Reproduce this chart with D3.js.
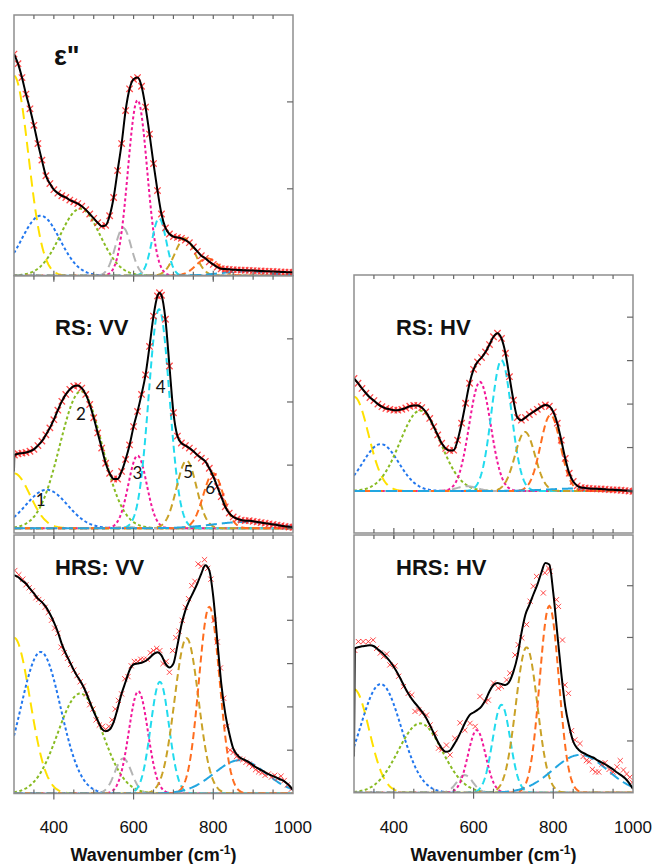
<!DOCTYPE html>
<html><head><meta charset="utf-8">
<script src="https://cdn.jsdelivr.net/npm/d3@7"></script>
<style>body{margin:0;background:#fff} svg{display:block}</style>
</head><body><svg id="c" width="655" height="864"></svg>
<script>
// ---------------- DATA ----------------
const xTickLabels = [400, 600, 800, 1000];
const xDomain = [300, 1000];

const compColors = ["#ffe100", "#2277ee", "#88bb22", "#b4b4b4", "#f2189a", "#22dbee", "#c9a227", "#ff6d1f", "#22a6e0"];

// Fit curves [wavenumber, value]
const epsFit = [[300,2.55],[310,2.44],[320,2.28],[330,2.09],[340,1.92],[350,1.73],[360,1.52],[370,1.33],[380,1.15],[390,1.06],[400,0.99],[410,0.95],[420,0.92],[430,0.90],[440,0.87],[450,0.85],[460,0.83],[470,0.80],[480,0.76],[490,0.71],[500,0.66],[510,0.61],[520,0.57],[530,0.58],[540,0.69],[550,0.90],[560,1.21],[570,1.52],[580,1.90],[590,2.15],[600,2.26],[610,2.28],[620,2.18],[630,1.94],[640,1.63],[650,1.29],[660,0.98],[670,0.71],[680,0.55],[690,0.48],[700,0.45],[710,0.44],[720,0.43],[730,0.41],[740,0.38],[750,0.33],[760,0.28],[770,0.23],[780,0.20],[790,0.16],[800,0.13],[810,0.10],[820,0.08],[830,0.077],[840,0.073],[850,0.069],[860,0.067],[870,0.065],[880,0.063],[890,0.061],[900,0.059],[910,0.056],[920,0.054],[930,0.052],[940,0.05],[950,0.048],[960,0.046],[970,0.044],[980,0.042],[990,0.04],[1000,0.038]];

const rsVVLeadIn = [[300,0.90]];
const rsVVFit = [[301,1.16],[310,1.18],[320,1.19],[330,1.20],[340,1.22],[350,1.25],[360,1.31],[370,1.38],[380,1.48],[390,1.59],[400,1.72],[410,1.87],[420,2.01],[430,2.12],[440,2.20],[450,2.25],[460,2.26],[470,2.22],[480,2.12],[490,1.96],[500,1.75],[510,1.51],[520,1.27],[530,1.03],[540,0.87],[550,0.78],[560,0.78],[570,0.90],[580,1.09],[590,1.32],[600,1.61],[610,1.85],[620,2.12],[630,2.43],[640,2.88],[650,3.36],[660,3.68],[665,3.73],[670,3.69],[680,3.31],[690,2.57],[700,1.83],[710,1.46],[720,1.35],[730,1.31],[740,1.27],[750,1.22],[760,1.16],[770,1.11],[780,1.06],[790,0.95],[800,0.82],[810,0.66],[820,0.50],[830,0.34],[840,0.24],[850,0.18],[860,0.15],[870,0.13],[880,0.12],[890,0.12],[900,0.11],[910,0.10],[920,0.09],[930,0.08],[940,0.07],[950,0.06],[960,0.05],[970,0.04],[980,0.03],[990,0.02],[1000,0.016]];

const rsHVFit = [[300,2.59],[310,2.48],[320,2.36],[330,2.25],[340,2.15],[350,2.08],[360,2.00],[370,1.94],[380,1.90],[390,1.88],[400,1.86],[410,1.86],[420,1.88],[430,1.91],[440,1.95],[450,1.97],[460,1.97],[470,1.92],[480,1.82],[490,1.67],[500,1.48],[510,1.29],[520,1.10],[530,0.98],[540,0.93],[550,0.94],[560,1.17],[570,1.56],[580,2.02],[590,2.48],[600,2.80],[610,2.97],[620,3.07],[630,3.20],[640,3.37],[650,3.55],[660,3.63],[670,3.51],[680,3.17],[690,2.63],[700,2.09],[710,1.69],[720,1.63],[730,1.69],[740,1.76],[750,1.82],[760,1.88],[770,1.94],[780,1.98],[790,1.95],[800,1.82],[810,1.56],[820,1.17],[830,0.75],[840,0.41],[850,0.22],[860,0.12],[870,0.08],[880,0.07],[890,0.06],[900,0.054],[910,0.05],[920,0.046],[930,0.04],[940,0.031],[950,0.027],[960,0.023],[970,0.017],[980,0.01],[990,0.0],[1000,-0.01]];

const hrsVVFit = [[300,5.04],[310,5.0],[320,4.92],[330,4.85],[340,4.73],[350,4.62],[360,4.5],[370,4.42],[380,4.31],[390,4.15],[400,3.96],[410,3.73],[420,3.45],[430,3.23],[440,3.04],[450,2.85],[460,2.69],[470,2.54],[480,2.35],[490,2.12],[500,1.89],[510,1.69],[520,1.5],[530,1.44],[540,1.48],[550,1.65],[560,1.96],[570,2.31],[580,2.58],[590,2.85],[600,2.98],[610,3.0],[620,3.02],[630,3.06],[640,3.13],[650,3.22],[660,3.26],[670,3.19],[680,3.0],[690,2.91],[700,3.0],[710,3.42],[720,3.89],[730,4.23],[740,4.46],[750,4.65],[760,4.85],[770,5.08],[780,5.27],[790,5.15],[800,4.54],[810,3.54],[820,2.54],[830,1.85],[840,1.39],[850,1.04],[860,0.89],[870,0.81],[880,0.77],[890,0.72],[900,0.65],[910,0.59],[920,0.54],[930,0.49],[940,0.44],[950,0.40],[960,0.36],[970,0.32],[980,0.27],[990,0.19],[1000,0.08]];

const hrsHVFit = [[300,0.70],[302,2.79],[310,2.81],[320,2.83],[330,2.84],[340,2.85],[350,2.83],[360,2.77],[370,2.71],[380,2.63],[390,2.54],[400,2.43],[410,2.30],[420,2.15],[430,2.0],[440,1.87],[450,1.76],[460,1.67],[470,1.57],[480,1.46],[490,1.31],[500,1.15],[510,0.99],[520,0.86],[530,0.79],[540,0.81],[550,0.92],[560,1.05],[570,1.21],[580,1.37],[590,1.50],[600,1.55],[610,1.60],[620,1.67],[630,1.79],[640,1.96],[650,2.08],[660,2.12],[670,2.10],[680,2.08],[690,2.15],[700,2.34],[710,2.63],[720,3.08],[730,3.44],[740,3.63],[750,3.83],[760,4.02],[770,4.25],[780,4.44],[790,4.41],[800,3.86],[810,3.08],[820,2.31],[830,1.67],[840,1.28],[850,0.99],[860,0.86],[870,0.79],[880,0.75],[890,0.71],[900,0.68],[910,0.63],[920,0.59],[930,0.55],[940,0.50],[950,0.45],[960,0.39],[970,0.34],[980,0.28],[990,0.19],[1000,0.07]];

// Measured points (HRS panels are noisy)
const hrsVVPts = [[302,5.15],[312,5.05],[322,4.95],[330,4.82],[338,4.75],[346,4.68],[355,4.52],[362,4.48],[370,4.42],[378,4.3],[386,4.18],[394,4.0],[402,3.82],[410,3.7],[418,3.38],[426,3.25],[434,3.12],[442,2.98],[450,2.85],[458,2.72],[466,2.58],[474,2.48],[482,2.3],[490,2.05],[498,1.95],[506,1.7],[514,1.58],[522,1.55],[530,1.48],[538,1.55],[546,1.7],[554,1.95],[562,2.15],[570,2.3],[578,2.65],[586,2.7],[594,2.95],[602,3.05],[610,3.05],[618,3.1],[626,3.1],[634,3.1],[642,3.25],[650,3.3],[658,3.35],[666,3.3],[674,3.0],[682,3.05],[690,2.8],[698,3.3],[706,3.6],[714,3.75],[722,4.0],[730,4.3],[738,4.5],[746,4.8],[754,4.9],[762,5.3],[770,5.25],[778,5.4],[786,5.2],[794,4.95],[802,4.0],[810,3.5],[818,2.9],[826,2.2],[834,1.55],[842,1.0],[850,0.95],[858,0.85],[866,0.8],[874,0.78],[882,0.72],[890,0.68],[898,0.62],[906,0.55],[914,0.5],[922,0.48],[930,0.42],[938,0.45],[946,0.38],[954,0.42],[962,0.35],[970,0.4],[978,0.3],[986,0.2],[996,0.1]];

const hrsHVPts = [[302,2.75],[311,2.92],[323,2.92],[336,2.92],[348,2.95],[357,2.79],[366,2.7],[374,2.63],[382,2.68],[390,2.47],[403,2.45],[412,2.25],[424,2.05],[436,1.92],[445,1.89],[453,1.57],[462,1.6],[470,1.54],[482,1.5],[491,1.31],[503,1.15],[512,0.86],[520,0.83],[532,0.92],[541,0.73],[553,1.05],[566,1.35],[578,1.21],[591,1.34],[604,1.28],[616,1.86],[629,1.76],[637,1.79],[650,2.12],[662,2.02],[670,2.05],[683,2.18],[691,2.31],[704,2.66],[712,2.86],[721,2.99],[733,3.25],[742,3.7],[750,3.99],[758,4.18],[775,3.86],[779,4.25],[788,4.34],[792,4.28],[808,3.73],[813,3.6],[823,2.95],[829,2.08],[838,1.92],[846,1.2],[854,1.02],[867,0.95],[875,0.7],[883,0.62],[890,0.6],[898,0.45],[906,0.4],[914,0.4],[922,0.55],[930,0.58],[940,0.45],[950,0.4],[960,0.5],[968,0.62],[976,0.44],[984,0.36],[992,0.3],[998,0.2]];

// Gaussian components: centers, widths (sigma), amplitudes
const epsCenters = [300,367,466,574,610,664,729,785,880];
const epsWidths  = [36,48,50,20,24,18,25,28,60];
const epsAmps    = [2.30,0.69,0.77,0.55,2.02,0.66,0.43,0.20,0.05];

const rsVVCenters = [300,382,468,580,610,664,733,800,880];
const rsVVWidths  = [40,52,53,22,23,26,25,25,80];
const rsVVAmps    = [0.87,0.61,2.17,0.02,1.15,3.47,1.07,0.87,0.10];

const rsHVCenters = [300,367,466,583,616,670,729,793,870];
const rsHVWidths  = [36,45,51,25,27,25,25,25,80];
const rsHVAmps    = [2.17,1.08,1.85,0.11,2.51,3.01,1.36,1.75,0.06];

const hrsVVCenters = [300,367,466,574,612,666,733,790,867];
const hrsVVWidths  = [40,50,56,21,24,23,30,26,65];
const hrsVVAmps    = [3.60,3.27,2.31,0.81,2.36,2.58,3.59,4.31,0.77];

const hrsHVCenters = [300,367,466,578,608,670,733,790,867];
const hrsHVWidths  = [38,51,55,20,22,22,27,24,68];
const hrsHVAmps    = [2.00,2.10,1.34,0.34,1.21,1.70,2.81,3.61,0.73];

const peakNumbers = ["1","2","3","4","5","6"];
const peakNumberPos = [[367,0.36],[468,1.72],[610,0.78],[668,2.15],[737,0.80],[792,0.55]];

// ---------------- DRAW ----------------
const svg = d3.select("#c");
const FONT = "'Liberation Sans', Arial, Helvetica, sans-serif";
const compDash = ["11,6","3,2.5","3,2.5","9,5","3,2.5","7,4","7,4","7,4","11,5"];

const panels = [
  {id:"eps",  px:[14,293],  py:[275.7,15],  dom:[0,3],       fit:epsFit,  lead:[], pts:epsFit,  dense:true,
   comp:[epsCenters,epsWidths,epsAmps], label:"ε\"", lx:54, ly:65, lsize:27, bottom:false},
  {id:"rsvv", px:[14,293],  py:[533,275.7], dom:[-0.075,4],  fit:rsVVFit, lead:rsVVLeadIn, pts:rsVVFit, dense:true,
   comp:[rsVVCenters,rsVVWidths,rsVVAmps], label:"RS: VV", lx:55, ly:335, lsize:22, bottom:false},
  {id:"hrsvv",px:[14,293],  py:[793.5,535], dom:[0,5.97],    fit:hrsVVFit, lead:[], pts:hrsVVPts, dense:false,
   comp:[hrsVVCenters,hrsVVWidths,hrsVVAmps], label:"HRS: VV", lx:55, ly:575, lsize:22, bottom:true},
  {id:"rshv", px:[354,633], py:[533,275],   dom:[-0.966,4.97], fit:rsHVFit, lead:[], pts:rsHVFit, dense:true,
   comp:[rsHVCenters,rsHVWidths,rsHVAmps], label:"RS: HV", lx:396, ly:335, lsize:22, bottom:false},
  {id:"hrshv",px:[354,633], py:[792.7,535], dom:[0,4.98],    fit:hrsHVFit, lead:[], pts:hrsHVPts, dense:false,
   comp:[hrsHVCenters,hrsHVWidths,hrsHVAmps], label:"HRS: HV", lx:396, ly:575, lsize:22, bottom:true}
];

const sampleW = d3.range(300, 1000.1, 2);
const markSmall = "M-2.6,-2.6L2.6,2.6M-2.6,2.6L2.6,-2.6";
const markDense = "M-3.2,-3.2L3.2,3.2M-3.2,3.2L3.2,-3.2";

panels.forEach(p => {
  const x = d3.scaleLinear().domain(xDomain).range(p.px);
  const y = d3.scaleLinear().domain(p.dom).range(p.py);
  const g = svg.append("g");
  const clipId = "clip-" + p.id;
  svg.append("clipPath").attr("id", clipId).append("rect")
    .attr("x", p.px[0]).attr("y", p.py[1]).attr("width", p.px[1]-p.px[0]).attr("height", p.py[0]-p.py[1]);
  const plot = g.append("g").attr("clip-path", `url(#${clipId})`);

  const line = d3.line().x(d => x(d[0])).y(d => y(d[1]));
  // components
  const [cs, ws, as] = p.comp;
  cs.forEach((c, i) => {
    const data = sampleW.map(w => [w, as[i] * Math.exp(-((w - c) ** 2) / (2 * ws[i] ** 2))]);
    plot.append("path").datum(data)
      .attr("d", line).attr("fill", "none")
      .attr("stroke", compColors[i]).attr("stroke-width", 2)
      .attr("stroke-dasharray", compDash[i]);
  });
  // measured markers
  plot.append("g").selectAll("path").data(p.pts).join("path")
    .attr("d", p.dense ? markDense : markSmall)
    .attr("transform", d => `translate(${x(d[0])},${y(d[1])})`)
    .attr("stroke", "#ff2a2a").attr("stroke-width", p.dense ? 1.3 : 1).attr("fill", "none")
    .attr("opacity", 0.85);
  // fit line
  plot.append("path").datum(p.lead.concat(p.fit))
    .attr("d", line.curve(d3.curveMonotoneX)).attr("fill", "none")
    .attr("stroke", "#000").attr("stroke-width", 2);

  // frame
  const fc = "#8e8e8e";
  g.append("rect").attr("x", p.px[0]).attr("y", p.py[1])
    .attr("width", p.px[1]-p.px[0]).attr("height", p.py[0]-p.py[1])
    .attr("fill", "none").attr("stroke", fc).attr("stroke-width", 1.5);
  // x ticks top & bottom
  const xt = d3.range(350, 1000, 50);
  xt.forEach(t => {
    const major = (t % 200 === 0);
    g.append("line").attr("x1", x(t)).attr("x2", x(t))
      .attr("y1", p.py[1]).attr("y2", p.py[1] + 4).attr("stroke", "#666").attr("stroke-width", 1.2);
    g.append("line").attr("x1", x(t)).attr("x2", x(t))
      .attr("y1", p.py[0] - (major ? 5 : 4)).attr("y2", p.py[0] + (major ? 6 : 0))
      .attr("stroke", "#666").attr("stroke-width", 1.2);
  });
  // y ticks on right
  const yt = d3.range(Math.ceil(p.dom[0]), Math.floor(p.dom[1]) + 1).filter(v => y(v) > p.py[1] + 2 && y(v) < p.py[0] - 2);
  yt.forEach(v => {
    g.append("line").attr("x1", p.px[1] - 6).attr("x2", p.px[1])
      .attr("y1", y(v)).attr("y2", y(v)).attr("stroke", "#666").attr("stroke-width", 1.2);
  });

  // panel label
  g.append("text").attr("x", p.lx).attr("y", p.ly).text(p.label)
    .attr("font-family", FONT).attr("font-weight", "bold").attr("font-size", p.lsize).attr("fill", "#111");

  if (p.id === "rsvv") {
    g.selectAll("text.num").data(peakNumbers).join("text").attr("class", "num")
      .attr("x", (d, i) => x(peakNumberPos[i][0])).attr("y", (d, i) => y(peakNumberPos[i][1]))
      .attr("text-anchor", "middle").attr("font-family", "Lato, 'Open Sans', sans-serif")
      .attr("font-size", 17).attr("fill", "#111").text(d => d);
  }

  if (p.bottom) {
    g.selectAll("text.tl").data(xTickLabels).join("text").attr("class", "tl")
      .attr("x", d => x(d)).attr("y", 833).attr("text-anchor", "middle")
      .attr("font-family", FONT).attr("font-size", 17).attr("fill", "#111").text(d => d);
    const tt = g.append("text").attr("x", (p.px[0] + p.px[1]) / 2).attr("y", 861)
      .attr("text-anchor", "middle").attr("font-family", FONT).attr("font-weight", "bold")
      .attr("font-size", 18).attr("fill", "#111");
    tt.append("tspan").text("Wavenumber (cm");
    tt.append("tspan").attr("dy", -7).attr("font-size", 12).text("-1");
    tt.append("tspan").attr("dy", 7).text(")");
  }
});
</script>
</body></html>
